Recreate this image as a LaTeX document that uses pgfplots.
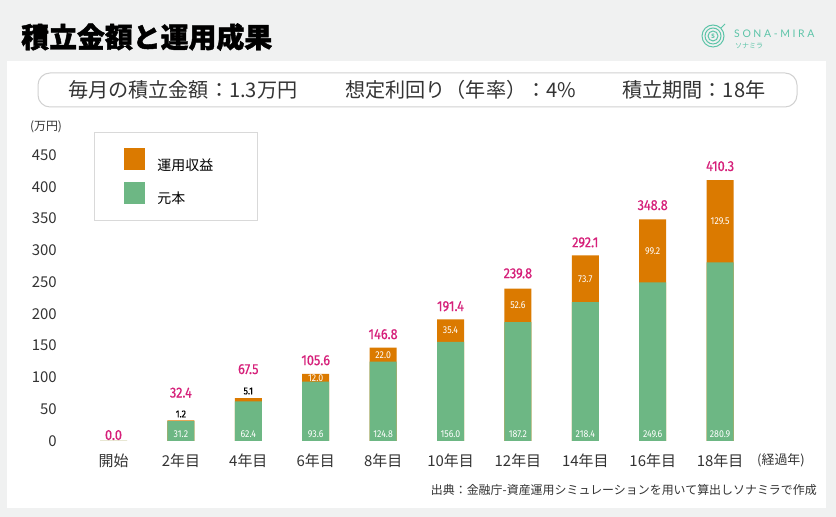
\documentclass[border=0pt]{standalone}
\usepackage{fontspec}
\usepackage{pgfplots}
\usepackage{pgfplotstable}
\pgfplotsset{compat=1.18}
\setmainfont{Noto Sans CJK JP}
\newfontfamily\titlefont[BoldFeatures={FakeBold=1.6}]{Noto Sans CJK JP}
\newfontfamily\numfont[FakeStretch=0.88]{Fira Sans}
\newfontfamily\totfont[FakeStretch=0.88, FakeBold=0.6]{Fira Sans}
\newfontfamily\logofont[LetterSpace=25]{Lato}
\definecolor{bg}{HTML}{F0F1F1}
\definecolor{orng}{HTML}{DB7A00}
\definecolor{grn}{HTML}{6DB784}
\definecolor{mag}{HTML}{D6207A}
\definecolor{logoteal}{HTML}{5CC4A8}
\definecolor{txt}{HTML}{333333}

\pgfplotstableread{
i principal total
0 0 0
1 31.2 32.4
2 62.4 67.5
3 93.6 105.6
4 124.8 146.8
5 156.0 191.4
6 187.2 239.8
7 218.4 292.1
8 249.6 348.8
9 280.9 410.3
}\bars

\pgfplotstableread{
i pos lbl
1 10.5 31.2
2 10.5 62.4
3 10.5 93.6
4 10.5 124.8
5 10.5 156.0
6 10.5 187.2
7 10.5 218.4
8 10.5 249.6
9 10.5 280.9
}\plabels

\pgfplotstableread{
i pos lbl
3 99.6 12.0
4 135.8 22.0
5 173.7 35.4
6 213.5 52.6
7 255.25 73.7
8 299.2 99.2
9 345.65 129.5
}\gaininside

\pgfplotstableread{
i pos lbl
1 42.5 1.2
2 78.6 5.1
}\gainabove

\pgfplotstableread{
i pos lbl
0 9.4 0.0
1 76 32.4
2 113 67.5
3 127 105.6
4 168 146.8
5 212 191.4
6 263.7 239.8
7 312.4 292.1
8 371 348.8
9 432.4 410.3
}\totals

\begin{document}
\begin{tikzpicture}[x=1bp,y=1bp]
\useasboundingbox (0,0) rectangle (836,517);
\fill[bg] (0,0) rectangle (836,517);
\fill[white] (7,9) rectangle (826,456);
\node[anchor=west, inner sep=0pt, font=\titlefont\bfseries\fontsize{28}{30}\selectfont] at (21,480) {積立金額と運用成果};
\draw[black!18, line width=1bp, fill=white, rounded corners=12bp] (38,410) rectangle (797,444);
\node[anchor=west, inner sep=0pt, text=txt, font=\fontsize{20.2}{22}\selectfont] at (68,427) {毎月の積立金額：1.3万円};
\node[anchor=west, inner sep=0pt, text=txt, font=\fontsize{20.2}{22}\selectfont] at (345,427) {想定利回り（年率）：4\%};
\node[anchor=west, inner sep=0pt, text=txt, font=\fontsize{20.2}{22}\selectfont] at (622,427) {積立期間：18年};
% logo
\draw[logoteal, line width=1bp] (713,481) circle[radius=11bp];
\draw[logoteal, line width=1bp] (713,481) circle[radius=8bp];
\draw[logoteal, line width=1bp] (713,481) circle[radius=5bp];
\node[text=logoteal, font=\fontsize{6}{6}\selectfont\bfseries, inner sep=0pt] at (713,481) {S};
\draw[logoteal, line width=1bp] (721,489) -- (725,493);
\node[anchor=west, inner sep=0pt, text=logoteal, font=\logofont\fontsize{10.5}{12}\selectfont] at (734,483) {SONA-MIRA};
\node[anchor=west, inner sep=0pt, text=logoteal, font=\fontsize{7}{8}\selectfont] at (735,471) {ソナミラ};
% unit labels
\node[text=txt, font=\fontsize{12}{14}\selectfont] at (46,390) {(万円)};
\node[text=txt, font=\fontsize{13}{15}\selectfont] at (781,57) {(経過年)};
\node[anchor=east, inner sep=0pt, text=txt, font=\fontsize{12}{14}\selectfont] at (817,27) {出典：金融庁-資産運用シミュレーションを用いて算出しソナミラで作成};

\begin{axis}[
  at={(62.95bp,76bp)}, anchor=south west,
  scale only axis, width=707.7bp, height=286bp,
  ybar, bar width=27bp, bar shift=0pt,
  xmin=-0.75, xmax=9.75, ymin=0, ymax=450,
  xtick={0,...,9},
  xticklabels={開始,2年目,4年目,6年目,8年目,10年目,12年目,14年目,16年目,18年目},
  ytick={0,50,...,450},
  axis line style={draw=none}, major tick length=0pt,
  /pgf/number format/assume math mode=true,
  tick label style={font=\fontsize{15}{17}\selectfont, text=txt},
  x tick label style={anchor=center, yshift=-20bp},
  y tick label style={anchor=east, inner sep=0pt, xshift=-6bp},
  clip=false,
  legend image code/.code={\fill[#1] (0bp,-5.5bp) rectangle (21bp,16.5bp);},
  legend style={at={(rel axis cs:0.0439,1.0804)}, anchor=north west,
    draw=black!15, line width=0.8bp, fill=white,
    inner xsep=30bp, inner ysep=16bp, row sep=10bp,
    nodes={inner sep=0pt},
    font=\fontsize{14}{16}\selectfont,
    /tikz/every odd column/.append style={column sep=12bp}},
  legend cell align=left,
]
\addplot[fill=orng, draw=none] table[x=i,y=total]{\bars};
\addlegendentry{\makebox[70bp][l]{運用収益}}
\addplot[fill=grn, draw=none] table[x=i,y=principal]{\bars};
\addlegendentry{\makebox[70bp][l]{元本}}

\addplot[draw=none, fill=none, forget plot, nodes near coords, point meta=explicit symbolic,
  nodes near coords style={anchor=center, text=white, font=\numfont\fontsize{10}{11}\selectfont}]
  table[x=i,y=pos,meta=lbl]{\plabels};
\addplot[draw=none, fill=none, forget plot, nodes near coords, point meta=explicit symbolic,
  nodes near coords style={anchor=center, text=white, font=\numfont\fontsize{10}{11}\selectfont}]
  table[x=i,y=pos,meta=lbl]{\gaininside};
\addplot[draw=none, fill=none, forget plot, nodes near coords, point meta=explicit symbolic,
  nodes near coords style={anchor=center, text=black, font=\totfont\fontsize{10}{11}\selectfont}]
  table[x=i,y=pos,meta=lbl]{\gainabove};
\addplot[draw=none, fill=none, forget plot, nodes near coords, point meta=explicit symbolic,
  nodes near coords style={anchor=center, text=mag, font=\totfont\fontsize{14.5}{16}\selectfont}]
  table[x=i,y=pos,meta=lbl]{\totals};
\end{axis}
\end{tikzpicture}
\end{document}
